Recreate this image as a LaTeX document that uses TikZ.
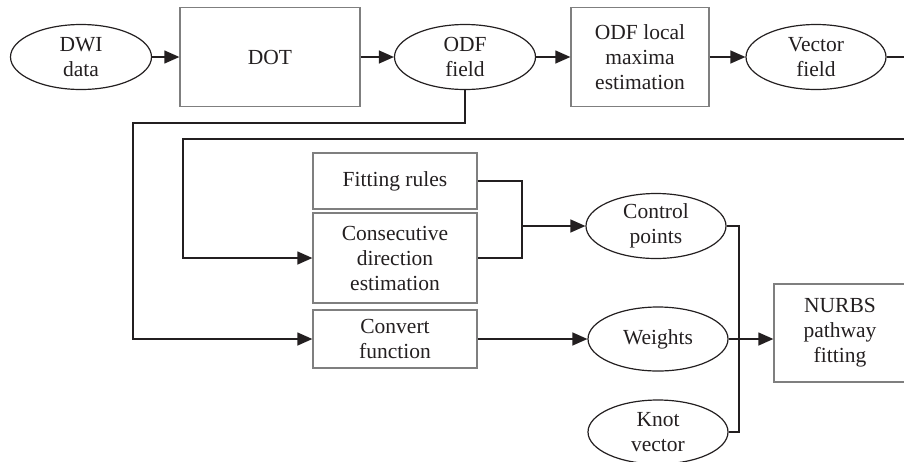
\documentclass[tikz,border=0pt]{standalone}
\usepackage{fontspec}
\setmainfont{Liberation Serif}
\usetikzlibrary{shapes.geometric,arrows.meta}
\definecolor{ink}{HTML}{231F20}
\definecolor{frame}{HTML}{7F7F7F}
\begin{document}
\begin{tikzpicture}[x=1pt,y=-1pt,
  every node/.style={font=\fontsize{21.5}{25}\selectfont, text=ink, align=center, inner sep=0pt},
  oval/.style={ellipse, draw=ink, line width=1.2pt, minimum width=141pt, minimum height=65pt},
  blk/.style={rectangle, draw=frame, line width=1.3pt},
  link/.style={draw=ink, line width=1.3pt},
  arr/.style={link, -{Triangle[length=15pt,width=13pt]}}]
\useasboundingbox (0,0) rectangle (904,461);

% top row
\node[oval] (dwi) at (81,57) {DWI\\data};
\node[blk, minimum width=180pt, minimum height=99pt] (dot) at (270,57) {DOT};
\node[oval] (odf) at (465,57) {ODF\\field};
\node[blk, minimum width=138pt, minimum height=99pt] (lmax) at (640,57) {ODF local\\maxima\\estimation};
\node[oval, minimum width=140pt] (vec) at (816,57) {Vector\\field};

% middle column of processing blocks
\node[blk, minimum width=164pt, minimum height=56pt] (fit) at (395,181) {Fitting rules};
\node[blk, minimum width=164pt, minimum height=90pt] (cons) at (395,258) {Consecutive\\direction\\estimation};
\node[blk, minimum width=164pt, minimum height=58pt] (conv) at (395,339) {Convert\\function};

% NURBS ingredients
\node[oval, minimum width=140pt] (ctrl) at (656,226) {Control\\points};
\node[oval, minimum width=140pt, minimum height=64pt] (wts) at (658,339) {Weights};
\node[oval, minimum width=140pt, minimum height=64pt] (knot) at (658,432) {Knot\\vector};
\node[blk, minimum width=132pt, minimum height=98pt] (nurbs) at (840,333) {NURBS\\pathway\\fitting};

% routing points
\coordinate (rt) at (906,139);
\coordinate (lf) at (183,139);
\coordinate (dn) at (133,123);
\coordinate (jfit) at (522,226);
\coordinate (bus) at (739,339);

% top row flow
\draw[arr] (dwi.east) -- (dot.west);
\draw[arr] (dot.east) -- (odf.west);
\draw[arr] (odf.east) -- (lmax.west);
\draw[arr] (lmax.east) -- (vec.west);

% feedback lines
\draw[arr] (vec.east) -| (rt) -- (lf) |- (cons.west);
\draw[arr] (odf.south) |- (dn) |- (conv.west);

% merge into control points
\draw[link] (fit.east) -| (jfit) |- (cons.east);
\draw[arr] (jfit) -- (ctrl.west);
\draw[arr] (conv.east) -- (wts.west);

% bus to NURBS fitting
\draw[link] (ctrl.east) -| (bus) |- (knot.east);
\draw[arr] (wts.east) -- (wts.east -| nurbs.west);
\end{tikzpicture}
\end{document}
